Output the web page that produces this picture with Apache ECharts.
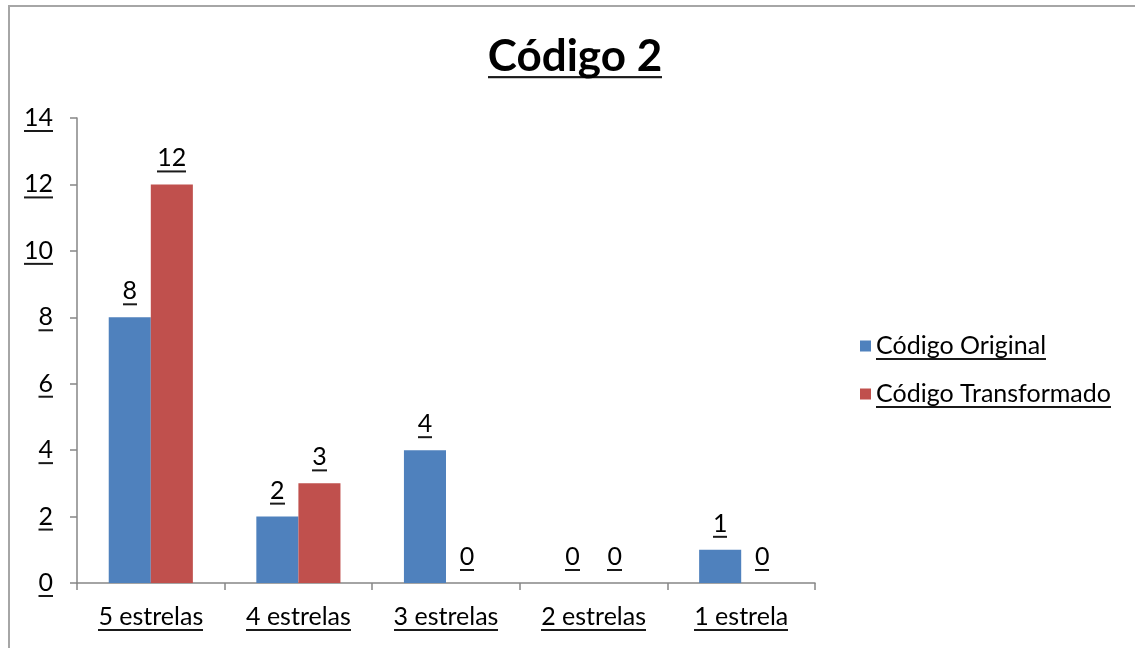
<!DOCTYPE html>
<html>
<head>
<meta charset="utf-8">
<script src="https://cdn.jsdelivr.net/npm/echarts@6/dist/echarts.min.js"></script>
<style>
  html, body { margin: 0; padding: 0; background: #fff; }
  #frame { position: absolute; left: 8px; top: 5px; width: 1140px; height: 660px; border: 2px solid #a6a6a6; box-sizing: border-box; }
  #chart { position: absolute; left: 0; top: 0; width: 1135px; height: 648px; }
</style>
</head>
<body>
<div id="frame"></div>
<div id="chart"></div>
<script>
const titleText = 'Código 2';
const categories = ['5 estrelas', '4 estrelas', '3 estrelas', '2 estrelas', '1 estrela'];
const seriesNames = ['Código Original', 'Código Transformado'];
const original = [8, 2, 4, 0, 1];
const transformado = [12, 3, 0, 0, 0];
const yTicks = [0, 2, 4, 6, 8, 10, 12, 14];

const FONT = 'Lato';
const FS = 25;
const LH = 30;
const TLH = 62;

// underline decoration as a text background image (transparent with a dark bottom stripe)
function underline(h, y0, thick) {
  const c = document.createElement('canvas');
  c.width = 4; c.height = h;
  const ctx = c.getContext('2d');
  ctx.fillStyle = '#1a1a1a';
  ctx.fillRect(0, y0, 4, thick);
  return c;
}
const ul = { image: underline(LH, 27, 2) };
const ulTitle = { image: underline(TLH, 58, 3) };

const chart = echarts.init(document.getElementById('chart'), null, { renderer: 'canvas' });
const labelStyle = {
  show: true, position: 'top', color: '#000', fontFamily: FONT, fontSize: FS,
  lineHeight: LH, backgroundColor: ul, padding: 0, distance: 11
};
chart.setOption({
  animation: false,
  title: {
    text: '{u|' + titleText + '}',
    left: 575, top: 26, textAlign: 'center', padding: 0,
    textStyle: {
      fontFamily: FONT, fontWeight: 'bold', fontSize: 44, color: '#000',
      rich: { u: { fontFamily: FONT, fontWeight: 'bold', fontSize: 44, color: '#000',
        lineHeight: TLH, backgroundColor: ulTitle, padding: 0 } }
    }
  },
  legend: {
    orient: 'vertical', left: 855, top: 326,
    itemWidth: 11, itemHeight: 11, itemGap: 18,
    icon: 'rect',
    textStyle: { fontFamily: FONT, fontSize: FS, color: '#000', lineHeight: LH,
      backgroundColor: ul, padding: 0 },
    data: seriesNames
  },
  grid: { left: 77, right: 320, top: 118, bottom: 65, containLabel: false },
  xAxis: {
    type: 'category', data: categories,
    axisLine: { lineStyle: { color: '#868686', width: 1.5 } },
    axisTick: { show: true, length: 7, alignWithLabel: false, lineStyle: { color: '#868686', width: 1.5 } },
    axisLabel: { color: '#000', fontFamily: FONT, fontSize: FS, margin: 19,
      lineHeight: LH, backgroundColor: ul, padding: 0 }
  },
  yAxis: {
    type: 'value', min: 0, max: 14, interval: 2,
    splitLine: { show: false },
    axisLine: { show: true, lineStyle: { color: '#868686', width: 1.5 } },
    axisTick: { show: true, length: 7, lineStyle: { color: '#868686', width: 1.5 } },
    axisLabel: { color: '#000', fontFamily: FONT, fontSize: FS, margin: 24,
      lineHeight: LH, backgroundColor: ul, padding: 0,
      formatter: v => yTicks.includes(v) ? String(v) : '' }
  },
  series: [
    { name: seriesNames[0], type: 'bar', data: original, barGap: '0%', barCategoryGap: '43%',
      itemStyle: { color: '#4F81BD' }, label: labelStyle },
    { name: seriesNames[1], type: 'bar', data: transformado, barGap: '0%', barCategoryGap: '43%',
      itemStyle: { color: '#C0504D' }, label: labelStyle }
  ]
});
</script>
</body>
</html>
